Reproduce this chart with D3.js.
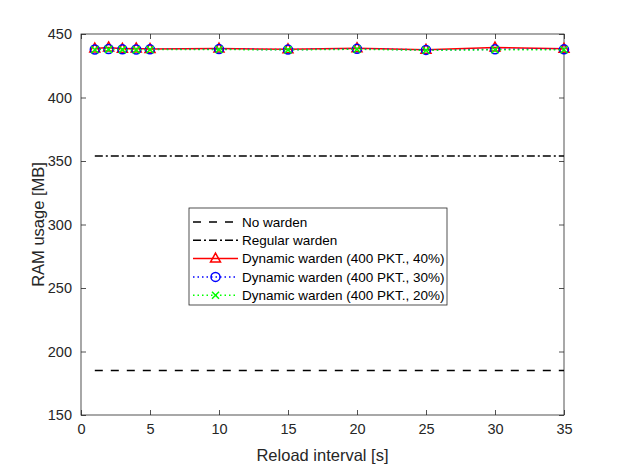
<!DOCTYPE html>
<html>
<head>
<meta charset="utf-8">
<script src="https://cdn.jsdelivr.net/npm/d3@7"></script>
<style>
  body { margin: 0; background: #fff; }
  svg { display: block; font-family: "Liberation Sans", Arial, sans-serif; }
</style>
</head>
<body>
<div id="chart"></div>
<script>
const intervals = [1, 2, 3, 4, 5, 10, 15, 20, 25, 30, 35];
const dyn40 = [438.5, 439.4, 438.3, 438.6, 438.2, 438.5, 438.0, 438.8, 437.6, 439.3, 438.3];
const dyn30 = [437.8, 438.2, 437.9, 437.8, 437.9, 438.1, 437.7, 438.3, 437.5, 437.9, 437.9];
const dyn20 = [437.6, 437.9, 437.7, 437.5, 437.7, 437.8, 437.5, 438.0, 437.2, 437.6, 437.6];
const noWarden = [185, 185];
const regularWarden = [354, 354];
const xTicks = [0, 5, 10, 15, 20, 25, 30, 35];
const yTicks = [150, 200, 250, 300, 350, 400, 450];

const width = 623;
const height = 467;
const margin = { top: 34, right: 59, bottom: 52, left: 81 };
const axisColor = "#262626";

const svg = d3
  .select("#chart")
  .append("svg")
  .attr("width", width)
  .attr("height", height)
  .attr("viewBox", [0, 0, width, height]);

const xScale = d3
  .scaleLinear()
  .domain([0, 35])
  .range([margin.left, width - margin.right]);
const yScale = d3
  .scaleLinear()
  .domain([150, 450])
  .range([height - margin.bottom, margin.top]);

const x0 = xScale.range()[0], x1 = xScale.range()[1];
const y0 = yScale.range()[0], y1 = yScale.range()[1];

// axes with inward ticks on all four sides
function styleAxis(g) {
  g.select(".domain").remove();
  g.selectAll(".tick line").attr("stroke", axisColor).attr("stroke-width", 0.8);
  g.selectAll(".tick text")
    .attr("fill", axisColor)
    .attr("font-size", 14.5);
}

svg.append("g")
  .attr("transform", `translate(0,${y0})`)
  .call(d3.axisBottom(xScale).tickValues(xTicks).tickSizeInner(-5).tickPadding(9))
  .call(styleAxis);
svg.append("g")
  .attr("transform", `translate(0,${y1})`)
  .call(d3.axisTop(xScale).tickValues(xTicks).tickSizeInner(-5).tickFormat(""))
  .call(styleAxis);
svg.append("g")
  .attr("transform", `translate(${x0},0)`)
  .call(d3.axisLeft(yScale).tickValues(yTicks).tickSizeInner(-5).tickPadding(9))
  .call(styleAxis);
svg.append("g")
  .attr("transform", `translate(${x1},0)`)
  .call(d3.axisRight(yScale).tickValues(yTicks).tickSizeInner(-5).tickFormat(""))
  .call(styleAxis);

svg.append("rect")
  .attr("x", x0)
  .attr("y", y1)
  .attr("width", x1 - x0)
  .attr("height", y0 - y1)
  .attr("fill", "none")
  .attr("stroke", axisColor)
  .attr("stroke-width", 0.8);

// axis labels
svg.append("text")
  .attr("x", (x0 + x1) / 2)
  .attr("y", 461)
  .attr("text-anchor", "middle")
  .attr("font-size", 16.5)
  .attr("fill", axisColor)
  .text("Reload interval [s]");
svg.append("text")
  .attr("transform", `translate(44,${(y0 + y1) / 2}) rotate(-90)`)
  .attr("text-anchor", "middle")
  .attr("font-size", 16.5)
  .attr("fill", axisColor)
  .text("RAM usage [MB]");

const line = d3
  .line()
  .x((d) => xScale(d[0]))
  .y((d) => yScale(d[1]));

const flatX = [intervals[0], intervals[intervals.length - 1]];

const series = [
  { label: "No warden", x: flatX, y: noWarden, color: "#000", dash: "8,8", marker: null },
  { label: "Regular warden", x: flatX, y: regularWarden, color: "#000", dash: "8,3,2,3", marker: null },
  { label: "Dynamic warden (400 PKT., 40%)", x: intervals, y: dyn40, color: "#ff0000", dash: null, marker: "triangle" },
  { label: "Dynamic warden (400 PKT., 30%)", x: intervals, y: dyn30, color: "#0000ff", dash: "1.5,3", marker: "circle" },
  { label: "Dynamic warden (400 PKT., 20%)", x: intervals, y: dyn20, color: "#00ff00", dash: "1.5,3", marker: "cross" },
];

function drawMarker(g, type, color) {
  if (type === "triangle") {
    g.append("path")
      .attr("d", "M0,-5.5L5,3.5L-5,3.5Z")
      .attr("fill", "none")
      .attr("stroke", color)
      .attr("stroke-width", 1.5);
  } else if (type === "circle") {
    g.append("circle")
      .attr("r", 4.5)
      .attr("fill", "none")
      .attr("stroke", color)
      .attr("stroke-width", 1.5);
  } else if (type === "cross") {
    g.append("path")
      .attr("d", "M-3.5,-3.5L3.5,3.5M-3.5,3.5L3.5,-3.5")
      .attr("fill", "none")
      .attr("stroke", color)
      .attr("stroke-width", 1.5);
  }
}

series.forEach((s) => {
  const pts = s.x.map((v, i) => [v, s.y[i]]);
  svg.append("path")
    .datum(pts)
    .attr("fill", "none")
    .attr("stroke", s.color)
    .attr("stroke-width", 1.5)
    .attr("stroke-dasharray", s.dash)
    .attr("d", line);
  if (s.marker) {
    pts.forEach((p) => {
      const g = svg.append("g").attr("transform", `translate(${xScale(p[0])},${yScale(p[1])})`);
      drawMarker(g, s.marker, s.color);
    });
  }
});

// legend
const legend = svg.append("g").attr("transform", "translate(189,208)");
legend.append("rect")
  .attr("width", 258)
  .attr("height", 97)
  .attr("fill", "#fff")
  .attr("stroke", axisColor)
  .attr("stroke-width", 0.8);

series.forEach((s, i) => {
  const ry = 14 + i * 18.3;
  legend.append("line")
    .attr("x1", 4)
    .attr("x2", 49)
    .attr("y1", ry)
    .attr("y2", ry)
    .attr("stroke", s.color)
    .attr("stroke-width", 1.5)
    .attr("stroke-dasharray", s.dash);
  if (s.marker) {
    const g = legend.append("g").attr("transform", `translate(26.5,${ry})`);
    drawMarker(g, s.marker, s.color);
  }
  legend.append("text")
    .attr("x", 53)
    .attr("y", ry)
    .attr("dy", "0.35em")
    .attr("font-size", 13.5)
    .attr("fill", "#000")
    .text(s.label);
});
</script>
</body>
</html>
